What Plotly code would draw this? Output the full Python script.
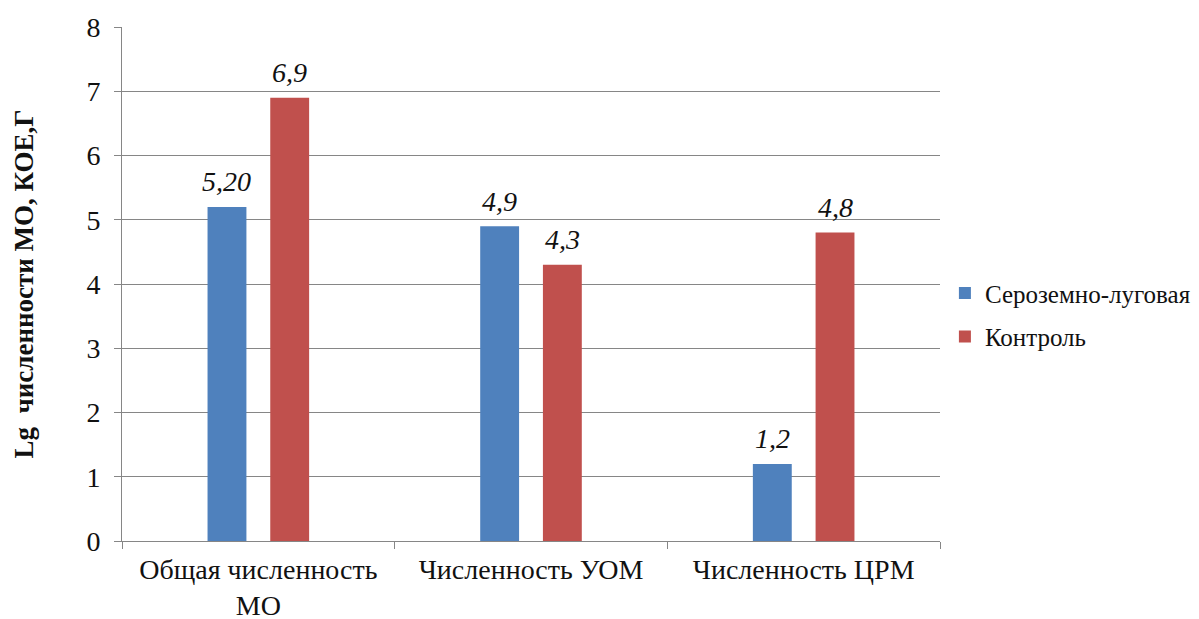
import plotly.graph_objects as go

categories = ["Общая численность<br>МО", "Численность УОМ", "Численность ЦРМ"]
series_names = ["Сероземно-луговая", "Контроль"]
serozem_values = [5.20, 4.9, 1.2]
control_values = [6.9, 4.3, 4.8]
serozem_labels = ["5,20", "4,9", "1,2"]
control_labels = ["6,9", "4,3", "4,8"]
y_ticks = [0, 1, 2, 3, 4, 5, 6, 7, 8]

FONT = "Tinos"
INK = "#111111"
BLUE = "#4F81BD"
RED = "#C0504D"
GRID = "#868686"

fig = go.Figure()
for name, vals, color, grp in [(series_names[0], serozem_values, BLUE, "s"),
                               (series_names[1], control_values, RED, "c")]:
    fig.add_trace(go.Bar(
        name=name, x=categories, y=vals, legendgroup=grp,
        marker=dict(color=color, line=dict(width=0)),
    ))

# value labels above each bar, shifted sideways to the bar's slot in the group
for vals, labels, dx in [(serozem_values, serozem_labels, -31.5),
                         (control_values, control_labels, 31.5)]:
    for cat, v, lab in zip(categories, vals, labels):
        fig.add_annotation(
            x=cat, y=v, text=lab, showarrow=False,
            xshift=dx, yshift=25, yanchor="middle",
            font=dict(family=FONT, size=28, color=INK, style="italic"),
        )

fig.update_layout(
    width=1199, height=619,
    margin=dict(l=122, r=259, t=27, b=78, autoexpand=False),
    paper_bgcolor="white", plot_bgcolor="white",
    barmode="group", bargap=0.54, bargroupgap=0.38,
    font=dict(family=FONT, size=28, color=INK),
    showlegend=True,
    legend=dict(
        x=1.006, y=0.44, xanchor="left", yanchor="middle",
        font=dict(family=FONT, size=25, color=INK),
        itemwidth=30, tracegroupgap=8, bgcolor="rgba(0,0,0,0)",
    ),
    xaxis=dict(
        showline=True, linecolor=GRID, linewidth=1,
        ticks="outside", tickson="boundaries", ticklen=7, tickcolor=GRID,
        tickfont=dict(family=FONT, size=28, color=INK),
        ticklabelstandoff=3, automargin=False,
        showgrid=False,
    ),
    yaxis=dict(
        range=[0, 8], tickvals=y_ticks,
        showline=True, linecolor=GRID, linewidth=1,
        ticks="outside", ticklen=7, tickcolor=GRID,
        showgrid=True, gridcolor=GRID, gridwidth=1,
        zeroline=False, ticklabelstandoff=8, automargin=False,
        tickfont=dict(family=FONT, size=28, color=INK),
        title=dict(text="<b>Lg  численности МО, КОЕ,Г</b>",
                   font=dict(family=FONT, size=27, color=INK),
                   standoff=44),
    ),
)

fig.write_html("out.html")
